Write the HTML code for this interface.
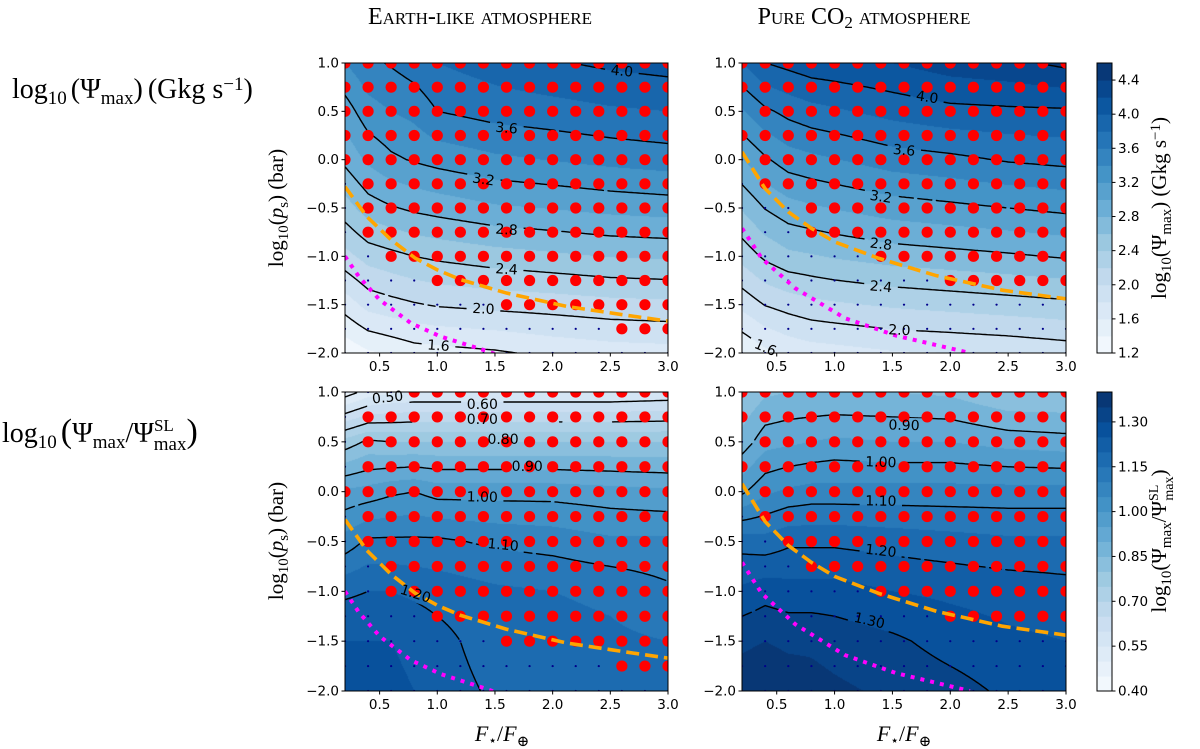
<!DOCTYPE html>
<html><head><meta charset="utf-8"><style>
body{margin:0;width:1200px;height:749px;position:relative;background:#fff;overflow:hidden}
canvas{position:absolute}
svg{position:absolute;left:0;top:0}
.tk{font-family:"DejaVu Sans",sans-serif;font-size:13.5px;fill:#000}
.sf{font-family:"Liberation Serif","DejaVu Serif",serif;fill:#000}
</style></head><body>
<canvas id="c0" width="323" height="290" style="left:345px;top:63px;width:323px;height:290px"></canvas>
<canvas id="c1" width="324" height="290" style="left:742px;top:63px;width:324px;height:290px"></canvas>
<canvas id="c2" width="323" height="299" style="left:345px;top:392px;width:323px;height:299px"></canvas>
<canvas id="c3" width="324" height="299" style="left:742px;top:392px;width:324px;height:299px"></canvas>
<svg id="ov" width="1200" height="749">
<text class="sf" x="480" y="24" text-anchor="middle" style="font-size:24px;font-variant:small-caps">Earth-like atmosphere</text>
<text class="sf" x="864" y="24" text-anchor="middle" style="font-size:24px;font-variant:small-caps">Pure CO<tspan baseline-shift="-25%" font-size="17">2</tspan> atmosphere</text>
<text class="sf" x="12" y="98" style="font-size:28px">log<tspan baseline-shift="-30%" font-size="19">10</tspan><tspan dx="4">(Ψ</tspan><tspan baseline-shift="-30%" font-size="19">max</tspan>)<tspan dx="5">(Gkg s</tspan><tspan baseline-shift="40%" font-size="19">−1</tspan>)</text>
<text class="sf" x="2" y="442" style="font-size:28px">log<tspan baseline-shift="-30%" font-size="19">10</tspan><tspan dx="4" font-size="34">(</tspan>Ψ<tspan baseline-shift="-30%" font-size="19">max</tspan>/Ψ<tspan dy="-11" font-size="17">SL</tspan><tspan dx="-20" dy="19" font-size="19">max</tspan><tspan dy="-8" font-size="34">)</tspan></text>
<text class="sf" transform="translate(283,208) rotate(-90)" text-anchor="middle" style="font-size:21px">log<tspan baseline-shift="-30%" font-size="15">10</tspan>(<tspan font-style="italic">p</tspan><tspan baseline-shift="-30%" font-size="15">s</tspan>) (bar)</text>
<text class="sf" transform="translate(283,541) rotate(-90)" text-anchor="middle" style="font-size:21px">log<tspan baseline-shift="-30%" font-size="15">10</tspan>(<tspan font-style="italic">p</tspan><tspan baseline-shift="-30%" font-size="15">s</tspan>) (bar)</text>
<text class="sf" x="502" y="741" text-anchor="middle" style="font-size:22px"><tspan font-style="italic">F</tspan><tspan baseline-shift="-30%" font-size="14">⋆</tspan>/<tspan font-style="italic">F</tspan><tspan baseline-shift="-30%" font-size="15">⊕</tspan></text>
<text class="sf" x="904" y="741" text-anchor="middle" style="font-size:22px"><tspan font-style="italic">F</tspan><tspan baseline-shift="-30%" font-size="14">⋆</tspan>/<tspan font-style="italic">F</tspan><tspan baseline-shift="-30%" font-size="15">⊕</tspan></text>
<text class="sf" transform="translate(1166,208) rotate(-90)" text-anchor="middle" style="font-size:21px">log<tspan baseline-shift="-30%" font-size="15">10</tspan>(Ψ<tspan baseline-shift="-30%" font-size="15">max</tspan>) (Gkg s<tspan baseline-shift="40%" font-size="15">−1</tspan>)</text>
<text class="sf" transform="translate(1166,541) rotate(-90)" text-anchor="middle" style="font-size:21px">log<tspan baseline-shift="-30%" font-size="15">10</tspan>(Ψ<tspan baseline-shift="-30%" font-size="15">max</tspan>/Ψ<tspan dy="-8" font-size="14">SL</tspan><tspan dx="-16" dy="15" font-size="14">max</tspan><tspan dy="-7">)</tspan></text>
</svg>
<script>
const xGrid=[0.2,0.4,0.6,0.8,1.0,1.5,2.0,2.5,3.0];
const yGrid=[-2,-1.5,-1,-0.5,0,0.5,1];
const earthPsi=[
[1.25,1.37,1.43,1.5,1.52,1.57,1.65,1.7,1.72],
[1.69,1.87,1.93,1.98,2.02,2.06,2.09,2.13,2.15],
[2.13,2.28,2.34,2.4,2.44,2.51,2.56,2.61,2.63],
[2.51,2.7,2.78,2.84,2.88,2.97,3.01,3.06,3.09],
[2.85,3.04,3.16,3.22,3.27,3.36,3.41,3.46,3.5],
[3.1,3.32,3.4,3.46,3.6,3.68,3.72,3.77,3.8],
[3.4,3.55,3.62,3.7,3.8,3.9,3.98,4.04,4.08]];
const co2Psi=[
[1.4,1.55,1.65,1.7,1.72,1.78,1.8,1.83,1.88],
[1.86,2.01,2.08,2.14,2.17,2.23,2.27,2.31,2.35],
[2.27,2.44,2.55,2.58,2.62,2.69,2.73,2.77,2.82],
[2.62,2.81,2.92,2.97,3.01,3.1,3.15,3.2,3.25],
[2.99,3.17,3.3,3.35,3.39,3.5,3.55,3.62,3.66],
[3.38,3.56,3.66,3.73,3.77,3.87,3.94,3.96,3.97],
[3.8,4.0,4.06,4.12,4.14,4.2,4.3,4.35,4.45]];
const earthRatio=[
[1.27,1.27,1.26,1.25,1.23,1.19,1.18,1.17,1.16],
[1.25,1.25,1.25,1.24,1.22,1.17,1.17,1.16,1.15],
[1.19,1.2,1.2,1.19,1.18,1.16,1.15,1.14,1.11],
[1.07,1.11,1.11,1.11,1.11,1.09,1.08,1.06,1.06],
[0.96,0.97,0.99,1.0,0.98,0.98,0.98,0.97,0.96],
[0.77,0.81,0.8,0.8,0.8,0.8,0.8,0.8,0.8],
[0.47,0.52,0.54,0.55,0.55,0.55,0.55,0.55,0.56]];
const co2Ratio=[
[1.38,1.39,1.38,1.37,1.36,1.34,1.32,1.29,1.28],
[1.34,1.35,1.34,1.34,1.33,1.31,1.28,1.26,1.25],
[1.26,1.28,1.27,1.27,1.27,1.25,1.24,1.23,1.22],
[1.18,1.17,1.19,1.19,1.19,1.18,1.17,1.16,1.16],
[0.99,1.04,1.06,1.07,1.07,1.07,1.07,1.07,1.07],
[0.87,0.93,0.94,0.95,0.96,0.95,0.95,0.93,0.92],
[0.8,0.84,0.85,0.85,0.85,0.85,0.84,0.8,0.8]];
const earthPsiRed=[15,12,7,4,2,1,1,1,0,0,0,0,0];
const co2PsiRed=[15,15,15,9,6,3,3,1,1,0,1,0,0];
const earthRatioRed=[15,12,7,4,2,2,1,1,0,1,1,1,3];
const co2RatioRed=[15,15,15,9,6,3,2,1,1,0,1,0,0];
const psiLevels=[1.2,1.4,1.6,1.8,2.0,2.2,2.4,2.6,2.8,3.0,3.2,3.4,3.6,3.8,4.0,4.2,4.4,4.6];
const ratioLevels=[0.40,0.45,0.50,0.55,0.60,0.65,0.70,0.75,0.80,0.85,0.90,0.95,1.00,1.05,1.10,1.15,1.20,1.25,1.30,1.35,1.40];
const psiLines=[1.6,2.0,2.4,2.8,3.2,3.6,4.0,4.4];
const ratioLines=[0.5,0.6,0.7,0.8,0.9,1.0,1.1,1.2,1.3];
const psiCbTicks=[1.2,1.6,2.0,2.4,2.8,3.2,3.6,4.0,4.4];
const ratioCbTicks=[0.40,0.55,0.70,0.85,1.00,1.15,1.30];
const xTicks=[0.5,1.0,1.5,2.0,2.5,3.0];
const yTicks=[-2.0,-1.5,-1.0,-0.5,0.0,0.5,1.0];
const earthOrangeX=[0.2,0.39,0.6,0.81,1.0,1.2,1.6,2.13,2.7,3.0];
const earthOrangeY=[-0.28,-0.59,-0.83,-1.02,-1.14,-1.24,-1.38,-1.52,-1.62,-1.67];
const earthMagX=[0.2,0.32,0.5,0.77,1.03,1.43,1.5];
const earthMagY=[-1.0,-1.21,-1.45,-1.69,-1.83,-1.98,-2.01];
const co2OrangeX=[0.2,0.4,0.6,0.8,1.0,1.38,1.88,2.45,3.0];
const co2OrangeY=[0.08,-0.3,-0.54,-0.71,-0.85,-1.02,-1.2,-1.35,-1.44];
const co2MagX=[0.2,0.37,0.66,1.09,1.53,2.17];
const co2MagY=[-0.71,-1.02,-1.33,-1.64,-1.82,-2.0];
const earthPsiLabV=[4.0,3.6,3.2,2.8,2.4,2.0,1.6];
const earthPsiLabX=[2.6,1.6,1.4,1.6,1.6,1.4,1.01];
const earthPsiLabY=[0.91,0.32,-0.21,-0.73,-1.14,-1.55,-1.93];
const co2PsiLabV=[4.0,3.6,3.2,2.8,2.4,2.0,1.6];
const co2PsiLabX=[1.8,1.6,1.4,1.4,1.4,1.56,0.4];
const co2PsiLabY=[0.64,0.09,-0.39,-0.88,-1.32,-1.77,-1.95];
const earthRatioLabV=[0.5,0.6,0.7,0.8,0.9,1.0,1.1,1.2];
const earthRatioLabX=[0.57,1.39,1.39,1.57,1.78,1.39,1.57,0.81];
const earthRatioLabY=[0.94,0.87,0.72,0.52,0.25,-0.06,-0.54,-1.03];
const co2RatioLabV=[0.9,1.0,1.1,1.2,1.3];
const co2RatioLabX=[1.6,1.4,1.4,1.4,1.3];
const co2RatioLabY=[0.66,0.29,-0.1,-0.6,-1.3];

const NS='http://www.w3.org/2000/svg';
const svg=document.getElementById('ov');
function mk(tag,attrs,parent){const e=document.createElementNS(NS,tag);for(const k in attrs)e.setAttribute(k,attrs[k]);(parent||svg).appendChild(e);return e;}
const BL=[[0,[247,251,255]],[0.125,[222,235,247]],[0.25,[198,219,239]],[0.375,[158,202,225]],[0.5,[107,174,214]],[0.625,[66,146,198]],[0.75,[33,113,181]],[0.875,[8,81,156]],[1,[8,48,107]]];
function blues(t){t=Math.max(0,Math.min(1,t));for(let i=1;i<BL.length;i++){if(t<=BL[i][0]){const a=BL[i-1],b=BL[i];const f=(t-a[0])/(b[0]-a[0]);return a[1].map((v,k)=>Math.round(v+(b[1][k]-v)*f));}}return BL[8][1];}
function seg(arr,v){for(let i=0;i<arr.length-1;i++){if(v<=arr[i+1]||i==arr.length-2){return [i,(v-arr[i])/(arr[i+1]-arr[i])];}}}
function field(vals,x,y){const [i,fx]=seg(xGrid,x);const [j,fy]=seg(yGrid,y);
 const a=vals[j][i],b=vals[j][i+1],c=vals[j+1][i],d=vals[j+1][i+1];
 return a*(1-fx)*(1-fy)+b*fx*(1-fy)+c*(1-fx)*fy+d*fx*fy;}
function bandColor(levels,v){const n=levels.length-1;let k=Math.floor((v-levels[0])/(levels[1]-levels[0]));k=Math.max(0,Math.min(n-1,k));return blues((k+0.5)/n);}

const panels=[
 {id:'c0',name:'earth-psi',x0:345,x1:668,y0:63,y1:353,vals:earthPsi,levels:psiLevels,lines:psiLines,red:earthPsiRed,ox:earthOrangeX,oy:earthOrangeY,mx:earthMagX,my:earthMagY,lv:earthPsiLabV,lx:earthPsiLabX,ly:earthPsiLabY,dec:1},
 {id:'c1',name:'co2-psi',x0:742,x1:1066,y0:63,y1:353,vals:co2Psi,levels:psiLevels,lines:psiLines,red:co2PsiRed,ox:co2OrangeX,oy:co2OrangeY,mx:co2MagX,my:co2MagY,lv:co2PsiLabV,lx:co2PsiLabX,ly:co2PsiLabY,dec:1},
 {id:'c2',name:'earth-ratio',x0:345,x1:668,y0:392,y1:691,vals:earthRatio,levels:ratioLevels,lines:ratioLines,red:earthRatioRed,ox:earthOrangeX,oy:earthOrangeY,mx:earthMagX,my:earthMagY,lv:earthRatioLabV,lx:earthRatioLabX,ly:earthRatioLabY,dec:2},
 {id:'c3',name:'co2-ratio',x0:742,x1:1066,y0:392,y1:691,vals:co2Ratio,levels:ratioLevels,lines:ratioLines,red:co2RatioRed,ox:co2OrangeX,oy:co2OrangeY,mx:co2MagX,my:co2MagY,lv:co2RatioLabV,lx:co2RatioLabX,ly:co2RatioLabY,dec:2}];

panels.forEach((p,pi)=>{
 const W=p.x1-p.x0,H=p.y1-p.y0;
 const sx=x=>p.x0+(x-0.2)/2.8*W, sy=y=>p.y0+(1-y)/3*H;
 const cv=document.getElementById(p.id),ctx=cv.getContext('2d');const img=ctx.createImageData(W,H);
 for(let py=0;py<H;py++)for(let px=0;px<W;px++){const x=0.2+(px+0.5)/W*2.8,y=1-(py+0.5)/H*3;const c=bandColor(p.levels,field(p.vals,x,y));const o=(py*W+px)*4;img.data[o]=c[0];img.data[o+1]=c[1];img.data[o+2]=c[2];img.data[o+3]=255;}
 ctx.putImageData(img,0,0);
 const g=mk('g',{});
 
 
 const cp=mk('clipPath',{id:'clip'+pi},g);mk('rect',{x:p.x0,y:p.y0,width:W,height:H},cp);
 const labs=p.lv.map((v,k)=>{const X=sx(p.lx[k]),Y=sy(p.ly[k]);const e=0.05;
   const xa=Math.max(0.2,p.lx[k]-e),xb=Math.min(3,p.lx[k]+e),ya=Math.max(-2,p.ly[k]-e),yb=Math.min(1,p.ly[k]+e);
   const gx=(field(p.vals,xb,p.ly[k])-field(p.vals,xa,p.ly[k]))/(sx(xb)-sx(xa));
   const gy=(field(p.vals,p.lx[k],ya)-field(p.vals,p.lx[k],yb))/(sy(ya)-sy(yb));
   let ang=Math.atan2(-gx,gy)*180/Math.PI; if(ang>90)ang-=180; if(ang<-90)ang+=180;
   ang=Math.max(-25,Math.min(25,ang*0.8));
   return {v,X,Y,ang,t:v.toFixed(p.dec)};});
 const mask=mk('mask',{id:'mask'+pi,maskUnits:'userSpaceOnUse',x:0,y:0,width:1200,height:749},g);
 mk('rect',{x:0,y:0,width:1200,height:749,fill:'#fff'},mask);
 labs.forEach(l=>{const w=l.t.length*8.6+8;mk('rect',{x:l.X-w/2,y:l.Y-8,width:w,height:16,fill:'#000',transform:`rotate(${l.ang} ${l.X} ${l.Y})`},mask);});
 const NX=141,NY=151;const gv=[];for(let j=0;j<NY;j++){gv.push([]);for(let i=0;i<NX;i++)gv[j].push(field(p.vals,0.2+2.8*i/(NX-1),-2+3*j/(NY-1)));}
 const gxp=i=>sx(0.2+2.8*i/(NX-1)),gyp=j=>sy(-2+3*j/(NY-1));
 const lg=mk('g',{mask:`url(#mask${pi})`,'clip-path':`url(#clip${pi})`},g);
 p.lines.forEach(L=>{let d='';
  for(let j=0;j<NY-1;j++)for(let i=0;i<NX-1;i++){const a=gv[j][i],b=gv[j][i+1],c=gv[j+1][i+1],e=gv[j+1][i];const pts=[];
   if((a-L)*(b-L)<0){const f=(L-a)/(b-a);pts.push([gxp(i+f),gyp(j)]);}
   if((b-L)*(c-L)<0){const f=(L-b)/(c-b);pts.push([gxp(i+1),gyp(j+f)]);}
   if((e-L)*(c-L)<0){const f=(L-e)/(c-e);pts.push([gxp(i+f),gyp(j+1)]);}
   if((a-L)*(e-L)<0){const f=(L-a)/(e-a);pts.push([gxp(i),gyp(j+f)]);}
   for(let q=0;q+1<pts.length;q+=2)d+=`M${pts[q][0].toFixed(1)} ${pts[q][1].toFixed(1)}L${pts[q+1][0].toFixed(1)} ${pts[q+1][1].toFixed(1)}`;}
  if(d){const pa=mk('path',{d,stroke:'#000','stroke-width':1.4,fill:'none','stroke-linecap':'round'},lg);
   
   }
 });
 const dg=mk('g',{'clip-path':`url(#clip${pi})`},g);
 p.red.forEach((start,r)=>{const y=-2+0.25*r;for(let c=0;c<15;c++){const x=0.2+0.2*c;
  const red=c>=start;const dot=mk('circle',{cx:sx(x),cy:sy(y),r:red?5.6:1.1,fill:red?'#ff0000':'#00008b'},dg);
  
  }});
 const ol=mk('polyline',{points:p.ox.map((x,k)=>sx(x)+','+sy(p.oy[k])).join(' '),fill:'none',stroke:'#ffa500','stroke-width':3.6,'stroke-dasharray':'13 6','clip-path':`url(#clip${pi})`},g);
 
 
 const ml=mk('polyline',{points:p.mx.map((x,k)=>sx(x)+','+sy(p.my[k])).join(' '),fill:'none',stroke:'#ff00ff','stroke-width':4,'stroke-dasharray':'4 6','clip-path':`url(#clip${pi})`},g);
 
 
 labs.forEach(l=>{const t=mk('text',{x:l.X,y:l.Y,'text-anchor':'middle','dominant-baseline':'central',transform:`rotate(${l.ang} ${l.X} ${l.Y})`,style:'font-family:"DejaVu Sans",sans-serif;font-size:14px'},g);t.textContent=l.t;
  
  });
 const fr=mk('rect',{x:p.x0,y:p.y0,width:W,height:H,fill:'none',stroke:'#000','stroke-width':1},g);
 
 
 xTicks.forEach(v=>{const X=sx(v);mk('line',{x1:X,x2:X,y1:p.y1,y2:p.y1+3.5,stroke:'#000'},g);
  const t=mk('text',{x:X,y:p.y1+18,'text-anchor':'middle',class:'tk'},g);t.textContent=v.toFixed(1);
  
  });
 yTicks.forEach(v=>{const Y=sy(v);mk('line',{x1:p.x0-3.5,x2:p.x0,y1:Y,y2:Y,stroke:'#000'},g);
  const t=mk('text',{x:p.x0-6,y:Y+4.5,'text-anchor':'end',class:'tk'},g);t.textContent=(v<0?'−':'')+Math.abs(v).toFixed(1);
  
  });
});
[[psiLevels,psiCbTicks,63,353,1,'psi'],[ratioLevels,ratioCbTicks,392,691,2,'ratio']].forEach(([lev,ticks,y0,y1,dec,nm])=>{
 const x0=1097,w=15,n=lev.length-1,H=y1-y0;const sy=v=>y1-(v-lev[0])/(lev[n]-lev[0])*H;
 const g=mk('g',{});
 
 
 for(let i=0;i<n;i++){const c=blues((i+0.5)/n);mk('rect',{x:x0,y:sy(lev[i+1]),width:w,height:sy(lev[i])-sy(lev[i+1])+0.5,fill:`rgb(${c})`},g);}
 mk('rect',{x:x0,y:y0,width:w,height:H,fill:'none',stroke:'#000'},g);
 ticks.forEach(v=>{const Y=sy(v);mk('line',{x1:x0+w,x2:x0+w+3.5,y1:Y,y2:Y,stroke:'#000'},g);
  const t=mk('text',{x:x0+w+6,y:Y+4.5,class:'tk'},g);t.textContent=v.toFixed(dec);
  
  });
});
</script>
</body></html>
